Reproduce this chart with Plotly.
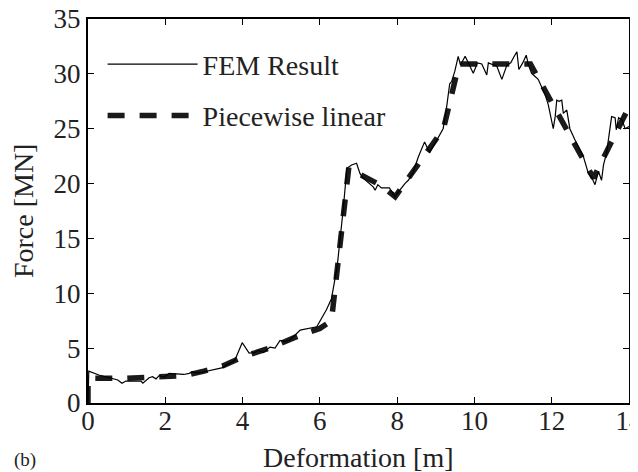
import plotly.graph_objects as go

# FEM result (deformation [m], force [MN])
fem_x = [0, 0.02, 0.28, 0.77, 0.88, 0.98, 1.37, 1.42, 1.58, 1.67, 1.76, 1.84, 1.97, 2.1,
         2.48, 2.62, 2.71, 2.79, 2.95, 3.46, 3.8, 3.99, 4.17, 4.32, 4.41, 4.54, 4.71, 4.84,
         4.97, 5.1, 5.23, 5.4, 5.49, 5.92, 6.17, 6.3, 6.45, 6.6, 6.7, 6.82, 6.95, 7.04,
         7.12, 7.38, 7.43, 7.5, 7.59, 7.8, 7.94, 8.07, 8.2, 8.29, 8.42, 8.55, 8.71, 8.84,
         8.93, 9.19, 9.27, 9.36, 9.41, 9.49, 9.58, 9.64, 9.76, 9.89, 9.97, 10.08, 10.19,
         10.32, 10.36, 10.58, 10.71, 10.84, 10.94, 11.03, 11.1, 11.15, 11.25, 11.34, 11.4,
         11.48, 11.57, 11.65, 11.83, 11.91, 12.04, 12.09, 12.13, 12.19, 12.26, 12.3, 12.39,
         12.47, 12.6, 12.82, 12.95, 13.03, 13.12, 13.21, 13.29, 13.34, 13.42, 13.55, 13.64,
         13.67, 13.73, 13.82, 13.9, 14.0]
fem_y = [0, 2.9, 2.55, 2.1, 1.8, 2.0, 2.0, 1.8, 2.3, 2.4, 2.2, 2.5, 2.35, 2.7,
         2.6, 2.7, 2.85, 2.75, 2.8, 3.2, 3.9, 5.5, 4.55, 4.6, 4.8, 4.6, 5.1, 5.0,
         5.7, 5.6, 5.75, 6.35, 6.65, 6.95, 8.5, 9.5, 12.5, 17.5, 21.4, 21.7, 21.85, 20.9,
         20.5, 19.7, 19.4, 19.9, 19.6, 19.6, 18.8, 19.4, 20.0, 20.3, 21.1, 22.45, 23.8, 22.8,
         23.4, 25.0, 26.7, 29.1, 29.3, 30.2, 31.6, 30.8, 31.6, 30.7, 30.05, 31.0, 30.9,
         29.9, 31.0, 30.7, 29.5, 30.8, 31.0, 31.6, 32.0, 30.4, 31.0, 31.7, 30.8,
         30.05, 29.75, 29.5, 28.1, 27.2, 25.0, 26.1, 27.6, 27.5, 27.6, 26.4, 26.7,
         25.0, 24.0, 22.45, 20.9, 20.6, 19.9, 21.1, 20.3, 21.7, 22.8, 26.1, 26.0,
         24.9, 26.0, 25.8, 25.0, 25.2]

# Piecewise linear approximation
pw_x = [0, 0, 1.0, 1.5, 2.5, 3.0, 3.5, 4.0, 4.7, 5.5, 6.0, 6.3, 6.75, 7.0, 7.6, 7.95,
        9.2, 9.6, 11.45, 13.08, 14.0]
pw_y = [0, 2.25, 2.25, 2.3, 2.5, 2.9, 3.4, 4.2, 5.0, 6.2, 6.8, 7.5, 21.5, 20.9, 19.8, 18.8,
        25.0, 30.9, 30.9, 20.5, 27.0]

x_ticks = [0, 2, 4, 6, 8, 10, 12, 14]
y_ticks = [0, 5, 10, 15, 20, 25, 30, 35]

FONT = "Liberation Serif"
TXT = "#222"

fig = go.Figure()
fig.add_trace(go.Scatter(x=pw_x, y=pw_y, mode="lines", name="Piecewise linear",
                         line=dict(color="#1a1a1a", width=5.5, dash="17px,15px"),
                         legendrank=2, legendgroup="b"))
fig.add_trace(go.Scatter(x=fem_x, y=fem_y, mode="lines", name="FEM Result",
                         line=dict(color="black", width=1.2), legendrank=1,
                         legendgroup="a"))

axis_common = dict(showgrid=False, zeroline=False, showline=True, linecolor="black",
                   linewidth=2, mirror="ticks", ticks="inside", ticklen=6,
                   tickwidth=1.3, tickcolor="black", automargin=False,
                   ticklabeloverflow="allow",
                   tickfont=dict(family=FONT, size=27, color=TXT))

# page body has an 8px margin, so the figure is offset; margins compensate
fig.update_layout(
    width=630, height=464,
    margin=dict(l=80, r=9, t=11, b=69, autoexpand=False),
    paper_bgcolor="white", plot_bgcolor="white",
    showlegend=True,
    legend=dict(x=0.027, y=0.947, xanchor="left", yanchor="top",
                bgcolor="rgba(0,0,0,0)", itemwidth=90,
                font=dict(family=FONT, size=28, color=TXT),
                tracegroupgap=12),
    xaxis=dict(range=[0, 14], tickvals=x_ticks, ticktext=[str(v) for v in x_ticks],
               ticklabelstandoff=-7, **axis_common),
    yaxis=dict(range=[0, 35], tickvals=y_ticks, ticktext=[str(v) for v in y_ticks],
               **axis_common),
    annotations=[
        dict(text="Deformation [m]", x=0.5, y=-0.143, xref="paper", yref="paper",
             xanchor="center", yanchor="middle", showarrow=False,
             font=dict(family=FONT, size=28, color=TXT)),
        dict(text="Force [MN]", x=-0.12, y=0.5, xref="paper", yref="paper",
             xanchor="center", yanchor="middle", showarrow=False, textangle=-90,
             font=dict(family=FONT, size=28, color=TXT)),
        dict(text="(b)", x=-0.14, y=-0.148, xref="paper", yref="paper",
             xanchor="left", yanchor="middle", showarrow=False,
             font=dict(family=FONT, size=19, color=TXT)),
    ],
)

fig.write_html("out.html")
